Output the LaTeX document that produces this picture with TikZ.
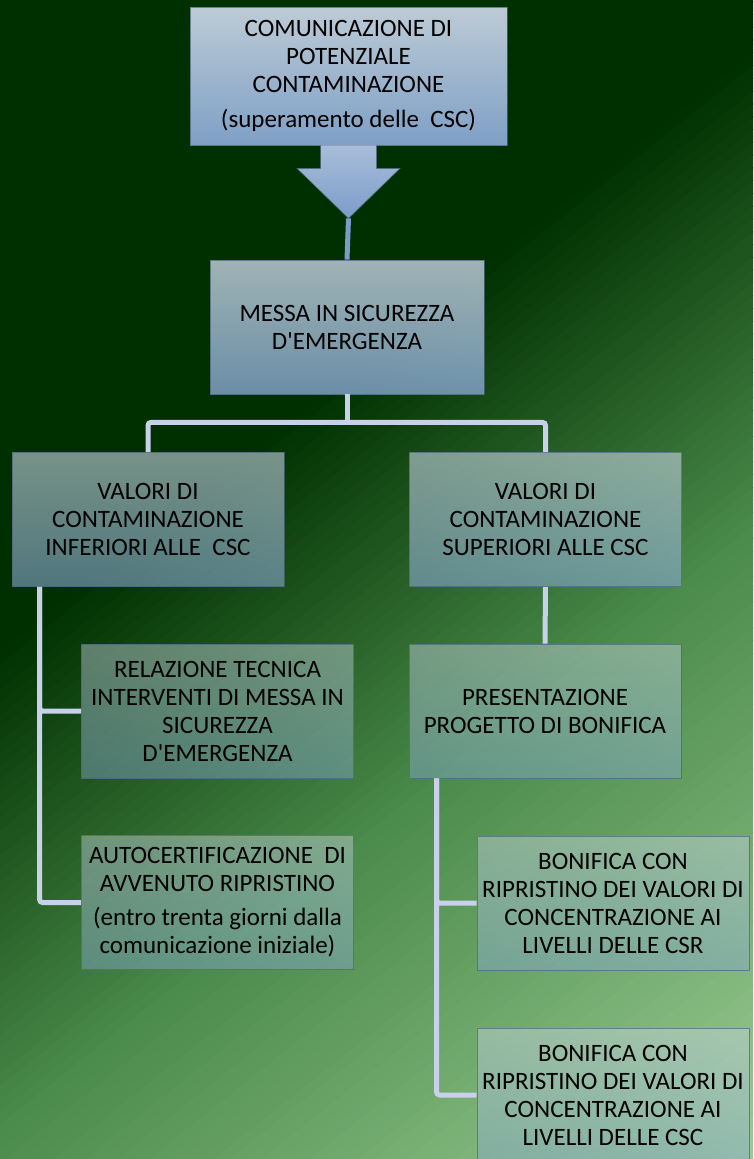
\documentclass[tikz,border=0pt]{standalone}
\usepackage{fontspec}
\setmainfont{Carlito}
\usetikzlibrary{calc}

\definecolor{bgdark}{HTML}{003000}
\definecolor{bgmid}{HTML}{4A8A4A}
\definecolor{bglight}{HTML}{9CCC94}
\definecolor{boxtop}{HTML}{C8D4E2}
\definecolor{boxbot}{HTML}{86A6D0}
\definecolor{boxline}{HTML}{4E6478}
\definecolor{arrowtop}{HTML}{A9BDD9}
\definecolor{arrowbot}{HTML}{7C9CCA}
\definecolor{linkcol}{HTML}{C9D0EA}
\definecolor{stemcol}{HTML}{7B9BC9}
\def\boxfont{\fontsize{25}{28}\selectfont}

\begin{document}
\begin{tikzpicture}[x=1pt, y=-1pt,
    box/.style={rectangle, draw=boxline, draw opacity=0.7, line width=0.8pt,
      minimum width=272pt, minimum height=134pt, inner sep=1pt, align=center,
      font=\boxfont, text=black, text opacity=1,
      top color=boxtop, bottom color=boxbot},
    link/.style={draw=linkcol, line width=5pt, rounded corners=3pt}]
  \useasboundingbox (0,0) rectangle (753,1159);

  % Background: diagonal bands, dark green -> light green
  \begin{scope}
    \clip (0,0) rectangle (753,1159);
    \begin{scope}[rotate=-51.5]
      \foreach \p in {0,10,...,1380} {
        \pgfmathtruncatemacro\lo{100*min(max((\p+5-510)/370,0),1)}  % dark -> mid
        \pgfmathtruncatemacro\hi{100*min(max((\p+5-880)/496,0),1)}  % mid -> light
        \colorlet{band0}{bgmid!\lo!bgdark}
        \colorlet{band}{bglight!\hi!band0}
        \fill[band] (\p,-1700) rectangle (\p+10.6,1700);
      }
    \end{scope}
  \end{scope}

  % Boxes
  \node[box, fill opacity=0.95, minimum width=317pt, minimum height=138pt] (alert)
    at (348.5,76) {COMUNICAZIONE DI\\POTENZIALE\\CONTAMINAZIONE\\[7pt](superamento delle\ \ CSC)};
  \node[box, fill opacity=0.8, minimum width=274pt] (messa)
    at (347,327) {MESSA IN SICUREZZA\\D\textquotesingle EMERGENZA};
  \node[box, fill opacity=0.6] (lower)
    at (148,519.5) {VALORI DI\\CONTAMINAZIONE\\INFERIORI ALLE\ \ CSC};
  \node[box, fill opacity=0.6] (upper)
    at (545.5,519.5) {VALORI DI\\CONTAMINAZIONE\\SUPERIORI ALLE CSC};
  \node[box, fill opacity=0.45] (report)
    at (217.5,711) {RELAZIONE TECNICA\\INTERVENTI DI MESSA IN\\SICUREZZA\\D\textquotesingle EMERGENZA};
  \node[box, fill opacity=0.45] (project)
    at (545,711) {PRESENTAZIONE\\PROGETTO DI BONIFICA};
  \node[box, fill opacity=0.45] (selfcert)
    at (217.5,902.5) {AUTOCERTIFICAZIONE\ \ DI\\AVVENUTO RIPRISTINO\\[6pt](entro trenta giorni dalla\\comunicazione iniziale)};
  \node[box, fill opacity=0.45] (csr)
    at (613,903) {BONIFICA CON\\RIPRISTINO DEI VALORI DI\\CONCENTRAZIONE AI\\LIVELLI DELLE CSR};
  \node[box, fill opacity=0.45] (csc)
    at (613,1095) {BONIFICA CON\\RIPRISTINO DEI VALORI DI\\CONCENTRAZIONE AI\\LIVELLI DELLE CSC};

  % Block arrow under the first box
  \coordinate (tip) at ($(alert.south)+(0,73)$);
  \shadedraw[top color=arrowtop, bottom color=arrowbot, draw=boxline, draw opacity=0.7, line width=0.8pt]
    ($(alert.south)+(-28,0)$) -- ++(0,23) -- ++(-23.5,0) -- (tip)
    -- ($(alert.south)+(51.5,23)$) -- ++(-23.5,0) -- ++(0,-23);
  \draw[stemcol, line width=5pt] (tip) -- (messa.north);

  % Connectors
  \coordinate (fork) at ($(messa.south)+(0,28)$);
  \draw[link] (messa.south) -- (fork);
  \draw[link] (lower.north) |- (fork) -| (upper.north);
  \draw[link] (upper.south) -- (project.north);
  \coordinate (lspine) at ($(lower.south west)+(28,0)$);
  \draw[link] (lspine) |- (report.west);
  \draw[link] (lspine) |- (selfcert.west);
  \coordinate (rspine) at ($(project.south west)+(28,0)$);
  \draw[link] (rspine) |- (csr.west);
  \draw[link] (rspine) |- (csc.west);
\end{tikzpicture}
\end{document}
